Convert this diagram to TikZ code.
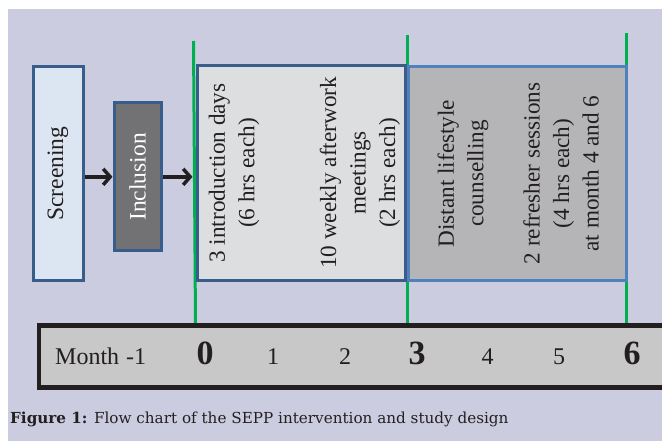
\documentclass[tikz,border=0pt]{standalone}
\usepackage{fontspec}
\setmainfont{Liberation Serif}
\newfontfamily\capfont{DejaVu Serif}
\usetikzlibrary{arrows.meta}
\definecolor{bgc}{RGB}{204,204,224}
\definecolor{scrfill}{RGB}{220,230,242}
\definecolor{darkblue}{RGB}{56,93,138}
\definecolor{lightblue}{RGB}{79,129,189}
\definecolor{incfill}{RGB}{114,114,116}
\definecolor{b1fill}{RGB}{221,222,224}
\definecolor{b2fill}{RGB}{181,181,183}
\definecolor{tlfill}{RGB}{200,200,201}
\definecolor{txt}{RGB}{35,31,32}
\definecolor{grn}{RGB}{0,176,80}
\begin{document}
\begin{tikzpicture}[x=1pt,y=-1pt,
  box/.style={draw, line width=3pt, inner sep=0pt},
  vtext/.style={rotate=90, align=center, inner sep=0pt, text=txt, font=\fontsize{23.2}{29.5}\selectfont},
  greenline/.style={draw=grn, line width=3pt},
  arr/.style={line width=3.5pt, draw=txt, -{Straight Barb[length=7pt,width=16pt]}},
  num/.style={anchor=base, inner sep=0pt, text=txt, font=\fontsize{24}{28}\selectfont},
  bignum/.style={anchor=base, inner sep=0pt, text=txt, font=\fontsize{34}{40}\selectfont\bfseries}]
\useasboundingbox (0,0) rectangle (662,441);
\begin{scope}
\clip (0,0) rectangle (662,441);
\fill[bgc] (8,9) rectangle (662,441);
% green month lines
\coordinate (g0t) at (193.5,41);  \coordinate (g0b) at (195.5,324);
\coordinate (g3t) at (407,35);    \coordinate (g3b) at (407,324);
\coordinate (g6t) at (626,33);    \coordinate (g6b) at (626,324);
\draw[greenline] (g0t) -- (g0b);
\draw[greenline] (g3t) -- (g3b);
\draw[greenline] (g6t) -- (g6b);
% boxes
\node[box, draw=darkblue, fill=scrfill, minimum width=50pt, minimum height=213.5pt] (scr) at (58,173.75) {};
\node[vtext, font=\fontsize{23.5}{28}\selectfont] (scrt) at (scr.center) {Screening};
\node[box, draw=darkblue, fill=incfill, minimum width=47pt, minimum height=147.7pt] (inc) at (137.5,176.85) {};
\node[vtext, text=white, font=\fontsize{23.5}{28}\selectfont] (inct) at (inc.center) {Inclusion};
\node[box, draw=darkblue, fill=b1fill, minimum width=208pt, minimum height=214.5pt] (b1) at (301.5,173.25) {};
\node[box, draw=lightblue, fill=b2fill, minimum width=217.5pt, minimum height=214pt] (b2) at (517.25,173.5) {};
\node[vtext] (t1a) at (234,173) {3 introduction days\\(6 hrs each)};
\node[vtext] (t1b) at (360,173) {10 weekly afterwork\\meetings\\(2 hrs each)};
\node[vtext] (t2a) at (463,173.5) {Distant lifestyle\\counselling};
\node[vtext] (t2b) at (561,173.5) {2 refresher sessions\\(4 hrs each)\\at month 4 and 6};
% arrows
\coordinate (g0m) at (192.5,176.85);
\draw[arr] (scr.east |- inc.west) -- (inc.west);
\draw[arr] (inc.east) -- (g0m);
% timeline
\node[draw=txt, fill=tlfill, line width=4.5pt, inner sep=0pt, minimum width=651pt, minimum height=62pt] (tl) at (364.5,356.5) {};
\node[num, anchor=base west] (mo) at (55,364.5) {Month\hspace{7pt}-1};
\node[bignum] (m0) at (205,364.5) {0};
\node[num] (m1) at (273,364.5) {1};
\node[num] (m2) at (345,364.5) {2};
\node[bignum] (m3) at (417,364.5) {3};
\node[num] (m4) at (487.5,364.5) {4};
\node[num] (m5) at (559,364.5) {5};
\node[bignum] (m6) at (632,364.5) {6};
% caption
\node[anchor=base west, inner sep=0pt, text=txt, font=\capfont\fontsize{15.2}{18}\selectfont] (cap) at (10,423) {\textbf{Figure 1:} Flow chart of the SEPP intervention and study design};
\end{scope}
\end{tikzpicture}
\end{document}
